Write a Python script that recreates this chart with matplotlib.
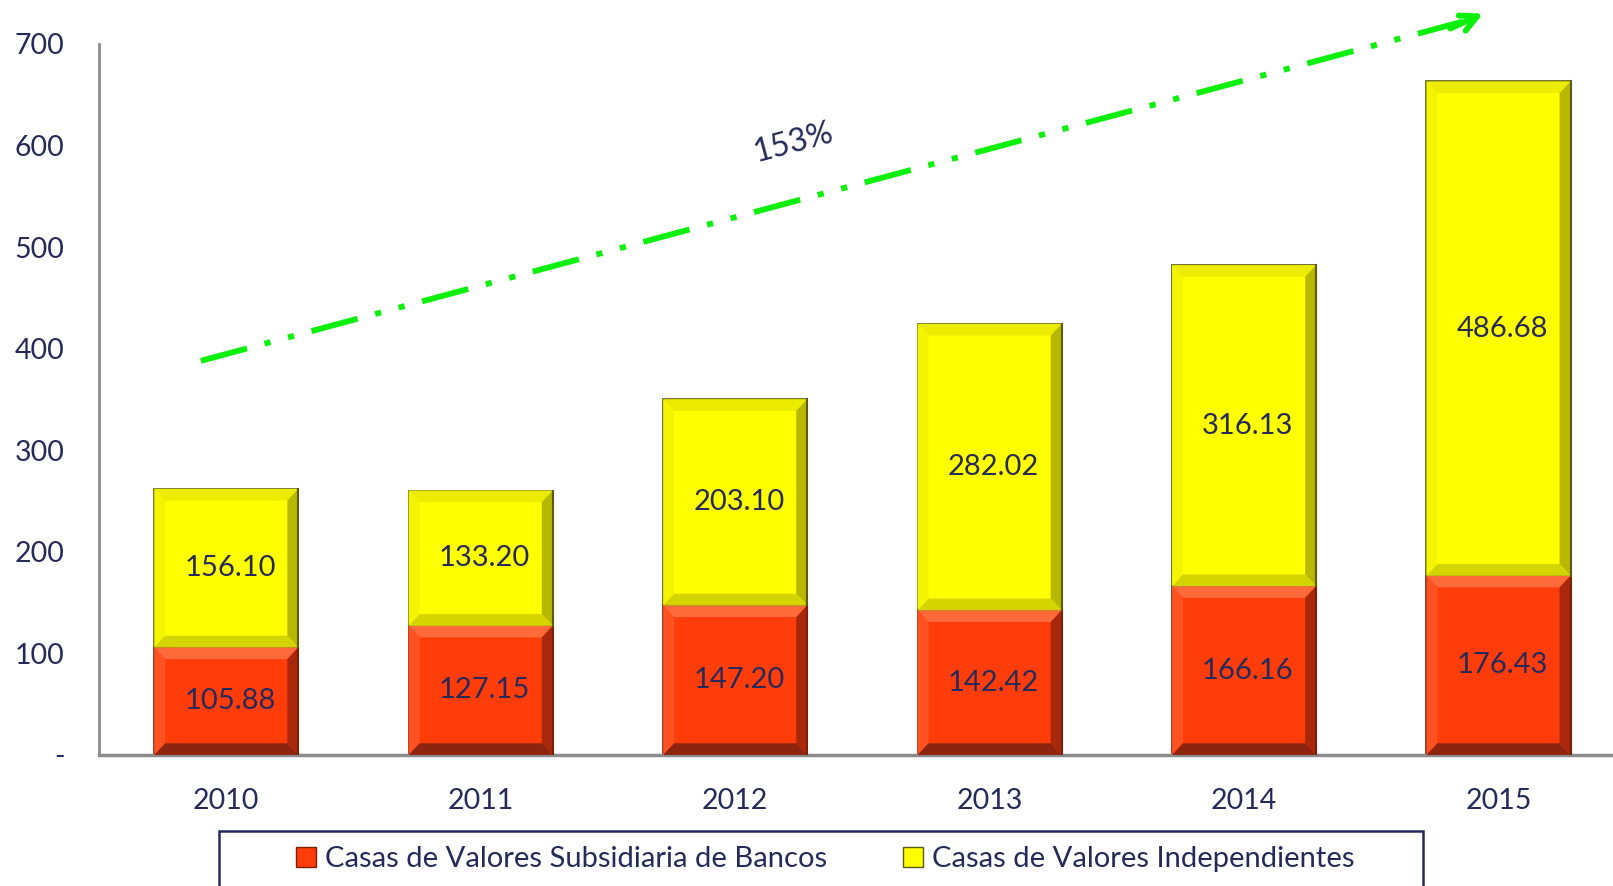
import numpy as np
from matplotlib import pyplot as plt
from matplotlib.patches import Polygon, Rectangle, Patch

years = ['2010', '2011', '2012', '2013', '2014', '2015']
subsidiarias = [105.88, 127.15, 147.20, 142.42, 166.16, 176.43]
independientes = [156.10, 133.20, 203.10, 282.02, 316.13, 486.68]
y_ticks = [0, 100, 200, 300, 400, 500, 600, 700]
y_labels = ['-', '100', '200', '300', '400', '500', '600', '700']
growth_label = '153%'
labels = ['Casas de Valores Subsidiaria de Bancos', 'Casas de Valores Independientes']

navy = '#262a5a'
green = '#0cf00c'
plt.rcParams['font.family'] = ['Lato', 'DejaVu Sans']

# colours: base, top bevel, left bevel, right bevel, bottom bevel, outline
red_shades = ['#ff3d0a', '#ff6a3a', '#ff5222', '#a8280c', '#8c2410', '#7a2008']
yel_shades = ['#ffff00', '#ecec00', '#f4f400', '#b8b800', '#d4d400', '#5a5a10']

fig = plt.figure(figsize=(16.13, 8.86), dpi=100)
ax = fig.add_axes([0.0614, 0.1479, 0.9386, 0.8025])
ax.set_xlim(-0.5, 5.45)
ax.set_ylim(0, 700)

bar_w = 0.566
x = np.arange(len(years))
dx = 0.043   # bevel width in x data units (~11 px)
dy = 11.5    # bevel height in y data units (~12 px)


def bevel_bar(xc, y0, h, shades):
    base, top, left, right, bottom, outline = shades
    x0, x1 = xc - bar_w / 2, xc + bar_w / 2
    y1 = y0 + h
    ax.add_patch(Rectangle((x0, y0), bar_w, h, facecolor=base, edgecolor=outline, lw=1.2, zorder=2))
    ax.add_patch(Polygon([(x0, y1), (x1, y1), (x1 - dx, y1 - dy), (x0 + dx, y1 - dy)], closed=True,
                         facecolor=top, edgecolor='none', zorder=3))
    ax.add_patch(Polygon([(x0, y0), (x0 + dx, y0 + dy), (x0 + dx, y1 - dy), (x0, y1)], closed=True,
                         facecolor=left, edgecolor='none', zorder=3))
    ax.add_patch(Polygon([(x1, y0), (x1, y1), (x1 - dx, y1 - dy), (x1 - dx, y0 + dy)], closed=True,
                         facecolor=right, edgecolor='none', zorder=3))
    ax.add_patch(Polygon([(x0, y0), (x1, y0), (x1 - dx, y0 + dy), (x0 + dx, y0 + dy)], closed=True,
                         facecolor=bottom, edgecolor='none', zorder=3))
    ax.plot([x1, x1], [y0, y1], color=outline, lw=1.5, zorder=4)


for i in range(len(years)):
    bevel_bar(x[i], 0, subsidiarias[i], red_shades)
    bevel_bar(x[i], subsidiarias[i], independientes[i], yel_shades)
    ax.text(x[i] + 0.015, subsidiarias[i] / 2, f'{subsidiarias[i]:.2f}', ha='center', va='center',
            fontsize=21, color=navy, zorder=5)
    ax.text(x[i] + 0.015, subsidiarias[i] + independientes[i] / 2, f'{independientes[i]:.2f}',
            ha='center', va='center', fontsize=21, color=navy, zorder=5)

# growth arrow
ax.plot([-0.1, 4.86], [388, 722], color=green, lw=4.2, solid_capstyle='butt',
        linestyle=(0, (8.2, 3.1, 1.07, 3.1, 1.07, 3.1)), clip_on=False, zorder=6)
ax.annotate('', xy=(4.95, 731), xytext=(4.80, 714),
            arrowprops=dict(arrowstyle='->', color=green, lw=4.2, mutation_scale=30),
            annotation_clip=False, zorder=6)
ax.text(2.23, 603, growth_label, rotation=15, ha='center', va='center', fontsize=23, color=navy)

ax.set_xticks(x)
ax.set_xticklabels(years)
ax.set_yticks(y_ticks)
ax.set_yticklabels(y_labels)
ax.tick_params(axis='both', length=0, labelsize=20.5, labelcolor=navy)
ax.tick_params(axis='y', pad=25)
ax.tick_params(axis='x', pad=24)
ax.spines['top'].set_visible(False)
ax.spines['right'].set_visible(False)
ax.spines['left'].set_color('#8c8c8c')
ax.spines['left'].set_linewidth(2)
ax.spines['bottom'].set_color('#8c8c8c')
ax.spines['bottom'].set_linewidth(2.5)

# legend box, cut off by the bottom of the figure
fig.patches.append(Rectangle((219 / 1613, -0.05), (1423 - 219) / 1613, 0.05 + 1 - 831 / 886,
                             transform=fig.transFigure, facecolor='white', edgecolor=navy, lw=1.8))
handles = [Patch(facecolor=red_shades[0], edgecolor=red_shades[5]),
           Patch(facecolor=yel_shades[0], edgecolor=yel_shades[5])]
leg = fig.legend(handles, labels, loc='center', bbox_to_anchor=(0.5115, 1 - 859 / 886), ncol=2,
                 frameon=False, fontsize=21, handlelength=0.7, handleheight=0.7,
                 handletextpad=0.3, columnspacing=2.6)
for t in leg.get_texts():
    t.set_color(navy)

plt.savefig('out.png', dpi=100)
plt.close()
